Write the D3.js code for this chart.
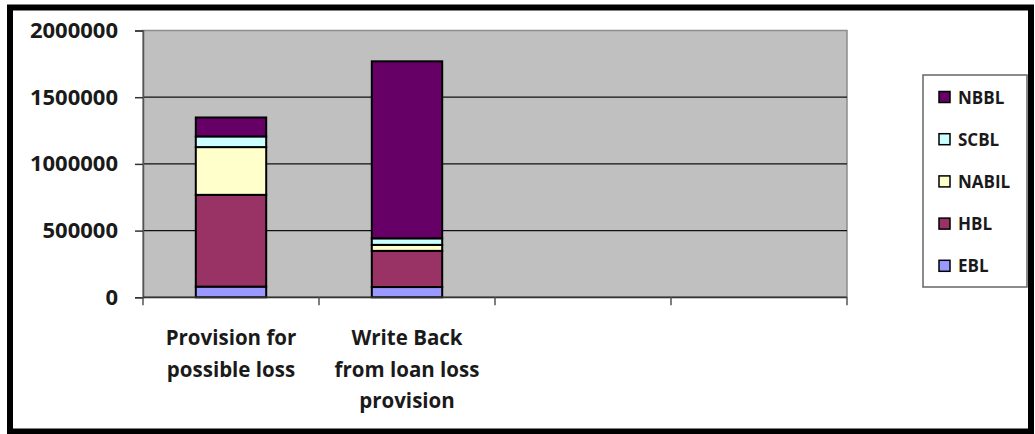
<!DOCTYPE html>
<html>
<head>
<meta charset="utf-8">
<script src="https://cdn.jsdelivr.net/npm/d3@7"></script>
<style>
  html, body { margin: 0; padding: 0; background: #fff; }
  svg { display: block; }
  text { font-family: "Open Sans", Lato, sans-serif; font-weight: bold; fill: #1a1a1a; }
</style>
</head>
<body>
<svg id="chart" width="1035" height="434"></svg>
<script>
// Categories on the x axis (last two slots are empty)
const categories = ["Provision for possible loss", "Write Back from loan loss provision", "", " "];
const categoryLines = [["Provision for", "possible loss"], ["Write Back", "from loan loss", "provision"], [], []];

// Series, bottom to top of each stack
const seriesNames = ["EBL", "HBL", "NABIL", "SCBL", "NBBL"];
const EBL   = [80000, 77000, null, null];
const HBL   = [688000, 271000, null, null];
const NABIL = [358000, 45000, null, null];
const SCBL  = [80000, 49000, null, null];
const NBBL  = [142000, 1327000, null, null];
const seriesColors = ["#9999FF", "#993366", "#FFFFCC", "#CCFFFF", "#660066"];

const yTicks = [0, 500000, 1000000, 1500000, 2000000];

const svg = d3.select("#chart");

// Outer frame
svg.append("rect").attr("x", 10).attr("y", 7.5).attr("width", 1021).attr("height", 424)
  .attr("fill", "#fff").attr("stroke", "#000").attr("stroke-width", 6);

const plot = { left: 143, right: 847, top: 30.5, bottom: 297.3 };

const x = d3.scaleBand().domain(categories)
  .range([plot.left, plot.right]).paddingInner(0.6).paddingOuter(0.3);
const y = d3.scaleLinear().domain([0, 2000000]).range([plot.bottom, plot.top]);

// Plot area background
svg.append("rect").attr("x", plot.left).attr("y", plot.top)
  .attr("width", plot.right - plot.left).attr("height", plot.bottom - plot.top)
  .attr("fill", "#C0C0C0").attr("stroke", "#8c8c8c").attr("stroke-width", 1.5);

// Horizontal gridlines
svg.append("g").selectAll("line").data(yTicks.filter(v => v > 0 && v < 2000000)).join("line")
  .attr("x1", plot.left).attr("x2", plot.right)
  .attr("y1", d => y(d)).attr("y2", d => y(d))
  .attr("stroke", "#111").attr("stroke-width", 1.2);

// Stacked columns
const table = categories.map((c, i) => {
  const row = { category: c };
  seriesNames.forEach((s, k) => { row[s] = [EBL, HBL, NABIL, SCBL, NBBL][k][i] || 0; });
  return row;
});
const stacked = d3.stack().keys(seriesNames)(table);

svg.append("g").selectAll("g").data(stacked).join("g")
  .attr("fill", (d, i) => seriesColors[i])
  .selectAll("rect").data(d => d.filter(p => p[1] > p[0])).join("rect")
  .attr("x", d => x(d.data.category))
  .attr("width", x.bandwidth())
  .attr("y", d => y(d[1]))
  .attr("height", d => y(d[0]) - y(d[1]))
  .attr("stroke", "#000").attr("stroke-width", 2);

// Y axis
const yAxis = svg.append("g").attr("transform", `translate(${plot.left},0)`)
  .call(d3.axisLeft(y).tickValues(yTicks).tickFormat(d3.format("d")).tickSize(8).tickPadding(17));
yAxis.select(".domain").attr("stroke", "#555").attr("stroke-width", 1.5);
yAxis.selectAll(".tick line").attr("stroke", "#333").attr("stroke-width", 1.5);
yAxis.selectAll(".tick text").attr("font-size", 22).attr("fill", "#1a1a1a")
  .attr("font-family", "'Open Sans', Lato, sans-serif").attr("font-weight", "bold");

// X axis line with ticks between categories
const xAxis = svg.append("g").attr("transform", `translate(0,${plot.bottom})`);
xAxis.append("line").attr("x1", plot.left).attr("x2", plot.right)
  .attr("stroke", "#333").attr("stroke-width", 1.8);
const step = x.step();
const boundaries = d3.range(categories.length + 1).map(i => plot.left + i * step);
xAxis.selectAll("line.tk").data(boundaries).join("line").attr("class", "tk")
  .attr("x1", d => d).attr("x2", d => d).attr("y1", 0).attr("y2", 8)
  .attr("stroke", "#555").attr("stroke-width", 1.5);

// Category labels
const lab = svg.append("g").selectAll("text").data(categories).join("text")
  .attr("text-anchor", "middle").attr("font-size", 20.5)
  .attr("x", d => x(d) + x.bandwidth() / 2);
lab.each(function(d, i) {
  d3.select(this).selectAll("tspan").data(categoryLines[i]).join("tspan")
    .attr("x", x(d) + x.bandwidth() / 2)
    .attr("y", (t, j) => 345 + j * 31.5)
    .text(t => t);
});

// Legend
const legend = svg.append("g");
legend.append("rect").attr("x", 923).attr("y", 75).attr("width", 104).attr("height", 212)
  .attr("fill", "#fff").attr("stroke", "#666").attr("stroke-width", 1.5);
const order = seriesNames.slice().reverse();
const item = legend.selectAll("g.item").data(order).join("g").attr("class", "item")
  .attr("transform", (d, i) => `translate(939,${97 + i * 42.2})`);
item.append("rect").attr("x", 0).attr("y", -5.5).attr("width", 11).attr("height", 11)
  .attr("fill", d => seriesColors[seriesNames.indexOf(d)])
  .attr("stroke", "#000").attr("stroke-width", 1.5);
item.append("text").attr("x", 19).attr("y", 6.5).attr("font-size", 17).text(d => d);
</script>
</body>
</html>
